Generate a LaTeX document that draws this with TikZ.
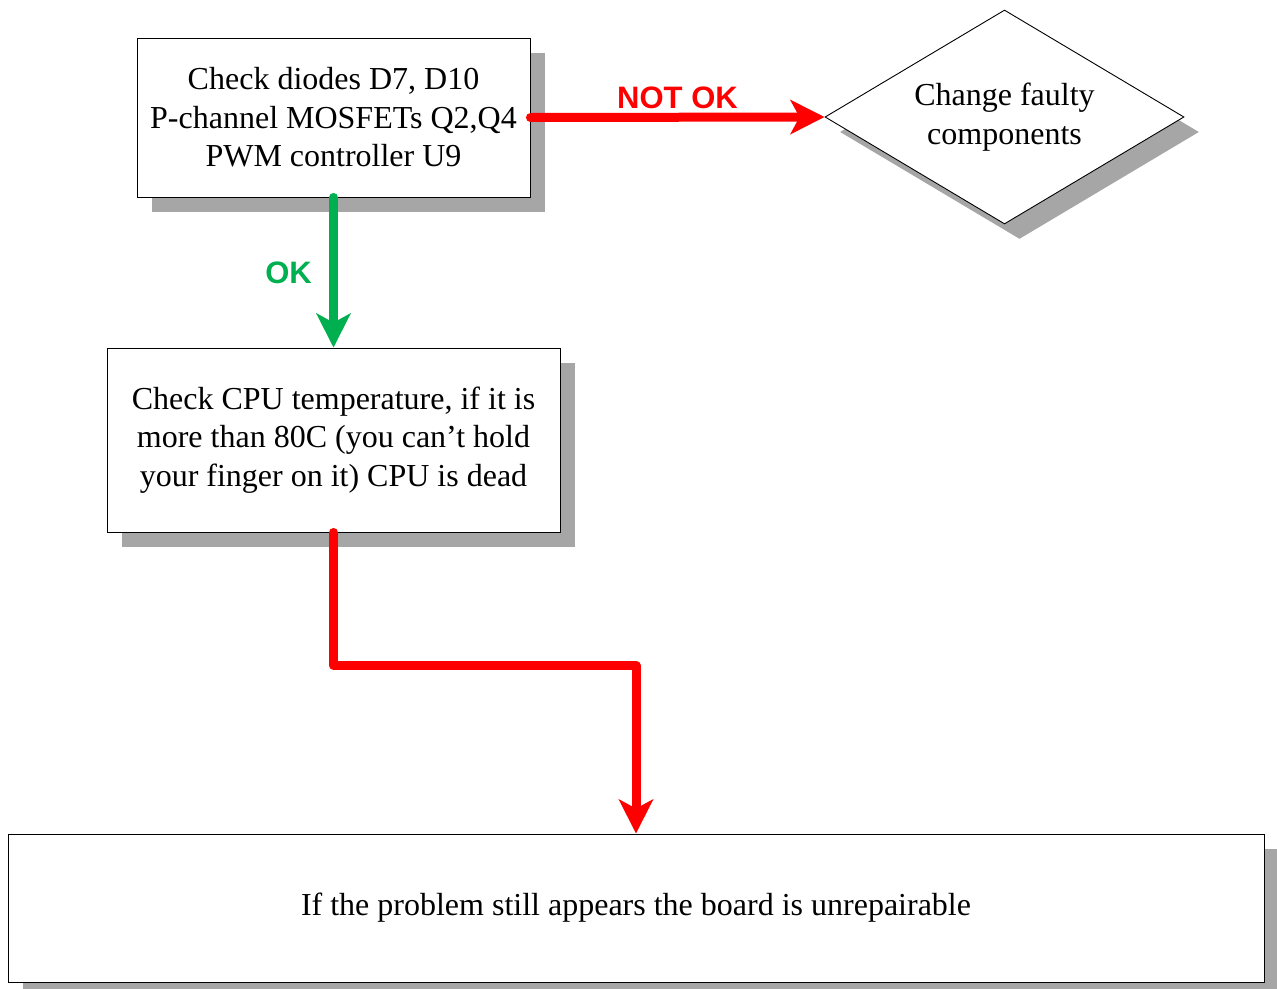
\documentclass[tikz,border=0pt]{standalone}
\usepackage{fontspec}
\setmainfont{Liberation Serif}
\newfontfamily\labelfont{Liberation Sans}
\usetikzlibrary{arrows.meta,shapes.geometric,shadows}
\definecolor{shd}{RGB}{166,166,166}
\definecolor{okgreen}{RGB}{0,176,80}
\definecolor{nokred}{RGB}{255,0,0}
\begin{document}
\begin{tikzpicture}[x=1pt,y=-1pt,
  shadowed/.style={general shadow={fill=shd, shadow xshift=15pt, shadow yshift=-15pt}},
  box/.style={draw=black, line width=0.9pt, fill=white, rectangle, inner sep=0pt,
    align=center, font=\fontsize{32}{38.5}\selectfont, shadowed},
  decision/.style={draw=black, line width=0.9pt, fill=white, diamond, aspect=1.678, inner sep=0pt,
    align=center, font=\fontsize{32}{38.5}\selectfont, shadowed},
  conn/.style={line width=9pt, line cap=round, line join=round,
    -{Stealth[length=34pt,width=34pt,inset=9pt]}},
  lbl/.style={font=\labelfont\bfseries\fontsize{31}{36}\selectfont, inner sep=0pt}
]
\useasboundingbox (0,0) rectangle (1277,988);

\node[box, minimum width=393pt, minimum height=159pt] (b1) at (333.5,117.5)
  {Check diodes D7, D10\\P-channel MOSFETs Q2,Q4\\PWM controller U9};
\node[decision, minimum width=359pt, minimum height=214pt] (dia) at (1004.5,117)
  {Change faulty\\components};
\node[box, minimum width=453pt, minimum height=184pt] (b2) at (333.5,440)
  {Check CPU temperature, if it is\\more than 80C (you can’t hold\\your finger on it) CPU is dead};
\node[box, minimum width=1256pt, minimum height=148pt] (fin) at (636,908)
  {If the problem still appears the board is unrepairable};

\draw[conn, nokred] (b1.east) -- (dia.west)
  node[lbl, text=nokred, midway, yshift=19pt] (lnok) {NOT OK};
\draw[conn, okgreen] (b1.south) -- (b2.north)
  node[lbl, text=okgreen, midway, xshift=-45pt] (lok) {OK};
\draw[conn, nokred] (b2.south) -- ++(0,133) -| (fin.north);
\end{tikzpicture}
\end{document}
